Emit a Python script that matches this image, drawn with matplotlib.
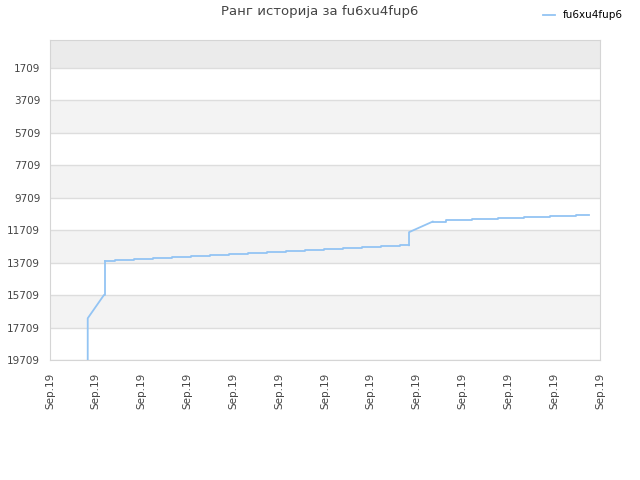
import matplotlib
matplotlib.use('Agg')
import matplotlib.pyplot as plt

title = 'Ранг историја за fu6xu4fup6'
player = 'fu6xu4fup6'

# x positions are in tick units (13 ticks, all "Sep.19")
tick_labels = ['Sep.19'] * 13
y_ticks = [1709, 3709, 5709, 7709, 9709, 11709, 13709, 15709, 17709, 19709]

# first climb (straight segments)
climb_x = [0.823, 0.823, 1.178, 1.200, 1.200]
climb_rank = [19709, 17139, 15702, 15702, 13606]

# slow staircase part
stairs1_x = [1.200, 1.418, 1.833, 2.247, 2.662, 3.076, 3.491, 3.905, 4.320,
             4.735, 5.149, 5.564, 5.978, 6.393, 6.807, 7.222, 7.636, 7.833]
stairs1_rank = [13606, 13545, 13483, 13421, 13360, 13298, 13237, 13175, 13113,
                13052, 12990, 12928, 12867, 12805, 12743, 12682, 12640, 12640]

# second jump
jump_x = [7.833, 7.833, 8.350]
jump_rank = [12640, 11837, 11184]

# second staircase
stairs2_x = [8.350, 8.640, 9.207, 9.775, 10.342, 10.909, 11.476, 11.760]
stairs2_rank = [11184, 11097, 11036, 10974, 10912, 10851, 10789, 10789]

line_color = '#93c4f3'

fig = plt.figure(figsize=(6.4, 4.8), dpi=100)
ax = fig.add_axes([50 / 640, 120 / 480, 550 / 640, 320 / 480])

# alternating bands
ax.axhspan(0, 1709, color='#ebebeb', zorder=0, lw=0)
for i in range(1, len(y_ticks) - 1, 2):
    ax.axhspan(y_ticks[i], y_ticks[i + 1], color='#f3f3f3', zorder=0, lw=0)
for t in y_ticks:
    ax.axhline(t, color='#dddddd', lw=1, zorder=1)

ax.plot(climb_x, climb_rank, color=line_color, lw=1.3, zorder=3, label=player)
ax.plot(stairs1_x, stairs1_rank, color=line_color, lw=1.3, zorder=3, drawstyle='steps-post')
ax.plot(jump_x, jump_rank, color=line_color, lw=1.3, zorder=3)
ax.plot(stairs2_x, stairs2_rank, color=line_color, lw=1.3, zorder=3, drawstyle='steps-post')

ax.set_xlim(0, 12)
ax.set_ylim(19709, 0)
ax.set_yticks(y_ticks)
ax.set_yticklabels([str(t) for t in y_ticks])
ax.set_xticks(range(len(tick_labels)))
ax.set_xticklabels(tick_labels, rotation=90)
ax.tick_params(axis='x', length=0, pad=9, labelsize=7.5, labelcolor='#444444')
ax.tick_params(axis='y', length=0, pad=7, labelsize=7.5, labelcolor='#444444')
for s in ax.spines.values():
    s.set_color('#d5d5d5')

fig.text(0.5, 1 - 12 / 480, title, ha='center', va='center', fontsize=9.5, color='#444444')
fig.legend(loc='upper right', bbox_to_anchor=(1 - 8 / 640, 1 - 1 / 480), frameon=False,
           fontsize=7.5, handlelength=1.15, handletextpad=0.75)

fig.savefig('out.png', dpi=100)
